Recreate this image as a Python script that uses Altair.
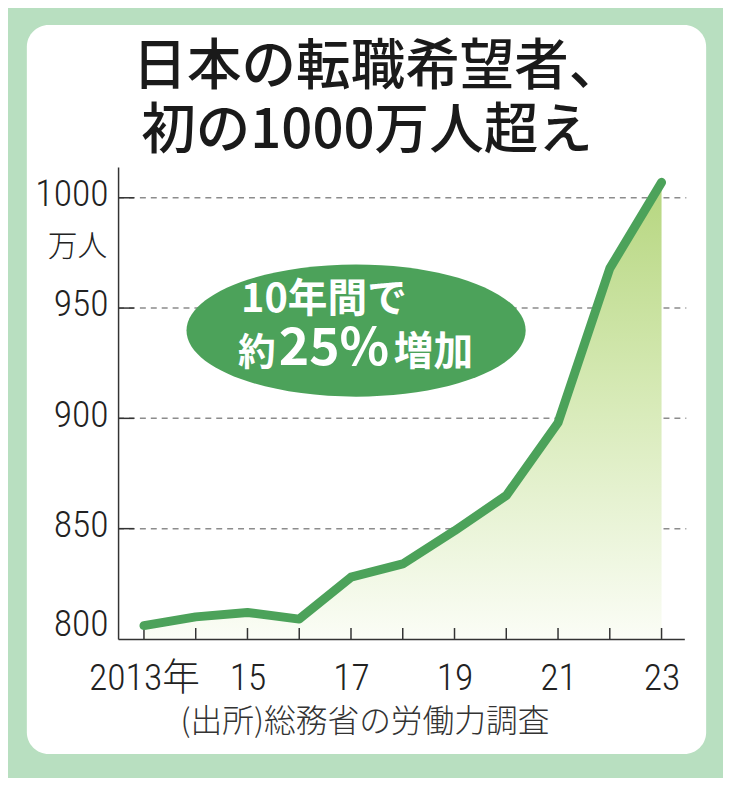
import altair as alt
import pandas as pd

# ---- data ----
years = [2013, 2014, 2015, 2016, 2017, 2018, 2019, 2020, 2021, 2022, 2023]
values = [806, 810, 812, 809, 828, 834, 849, 865, 898, 968, 1007]
x_label_years = [2013, 2015, 2017, 2019, 2021, 2023]
y_tick_values = [800, 850, 900, 950, 1000]
grid_values = [850, 900, 950, 1000]

title_line1 = "日本の転職希望者、"
title_line2 = "初の1000万人超え"
unit_label = "万人"
bubble_line1 = "10年間で"
bubble_pre = "約"
bubble_num = "25%"
bubble_post = "増加"
source_text = "(出所)総務省の労働力調査"

df = pd.DataFrame({"year": years, "value": values})
grid_df = pd.DataFrame({"value": grid_values})
tick_df = pd.DataFrame({"year": years})
one = pd.DataFrame({"k": [0]})

W, H = 571, 476
NARROW = "Liberation Sans Narrow, Arial Narrow, Roboto Condensed, DejaVu Sans Condensed, Noto Sans CJK JP, sans-serif"
JP = "Noto Sans CJK JP"
LINE_GREEN = "#4ca25a"

xs = alt.Scale(domain=[2012.5, 2023.44], nice=False, zero=False)
ys = alt.Scale(domain=[800, 1014], nice=False, zero=False)

# white rounded panel
panel = alt.Chart(one).mark_rect(color="white", cornerRadius=22).encode(
    x=alt.value(-92), x2=alt.value(593), y=alt.value(-143), y2=alt.value(592)
)

grid = alt.Chart(grid_df).mark_rule(color="#8c8c8c", strokeWidth=1.5, strokeDash=[6, 5]).encode(
    y=alt.Y("value:Q", scale=ys), x=alt.value(0), x2=alt.value(W + 2)
)
ytick = alt.Chart(grid_df).mark_rule(color="#333333", strokeWidth=1.5).encode(
    y=alt.Y("value:Q", scale=ys), x=alt.value(0), x2=alt.value(16)
)
xtick = alt.Chart(tick_df).mark_rule(color="#333333", strokeWidth=1.5).encode(
    x=alt.X("year:Q", scale=xs), y=alt.value(H), y2=alt.value(H - 11)
)

area = alt.Chart(df).mark_area(
    color=alt.Gradient(
        gradient="linear",
        stops=[
            alt.GradientStop(color="#b6d67f", offset=0),
            alt.GradientStop(color="#d5e9b4", offset=0.45),
            alt.GradientStop(color="#fbfdf6", offset=1),
        ],
        x1=1, x2=1, y1=0, y2=1,
    )
).encode(
    x=alt.X("year:Q", scale=xs),
    y=alt.Y("value:Q", scale=ys),
    y2=alt.datum(800),
)

line = alt.Chart(df).mark_line(color=LINE_GREEN, strokeWidth=9, strokeCap="round", strokeJoin="round").encode(
    x=alt.X(
        "year:Q", scale=xs,
        axis=alt.Axis(
            values=x_label_years, title=None, grid=False, ticks=False, zindex=1,
            domainColor="#333333", domainWidth=1.5,
            labelFont=NARROW, labelFontSize=38, labelFontWeight=300, labelColor="#222222", labelPadding=21,
            labelExpr="datum.value == 2013 ? '2013年' : slice(toString(datum.value), 2)",
        ),
    ),
    y=alt.Y(
        "value:Q", scale=ys,
        axis=alt.Axis(
            values=y_tick_values, title=None, grid=False, ticks=False, zindex=1,
            domainColor="#333333", domainWidth=1.5, format="d",
            labelFont=NARROW, labelFontSize=38, labelFontWeight=300, labelColor="#222222", labelPadding=10,
            labelFlush=True, labelFlushOffset=8, labelOffset=-3,
        ),
    ),
)

ellipse = alt.Chart(one).mark_point(
    shape="M -1 0 A 1 0.39 0 1 0 1 0 A 1 0.39 0 1 0 -1 0 Z",
    filled=True, fill=LINE_GREEN, opacity=1, strokeWidth=0, size=342 * 342,
).encode(x=alt.value(240), y=alt.value(165))

def txt(text, x, y, size, color="#1a1a1a", font=JP, weight="normal", align="center", baseline="middle"):
    return alt.Chart(one).mark_text(
        text=text, font=font, fontSize=size, fontWeight=weight, color=color,
        align=align, baseline=baseline,
    ).encode(x=alt.value(x), y=alt.value(y))

texts = [
    txt(title_line1, 262, -101, 55, weight=500),
    txt(title_line2, 251, -36, 55, weight=500),
    txt(unit_label, -11, 81, 30, color="#222222", align="right", weight=300),
    txt(bubble_line1, 124, 134, 40, color="white", weight="bold", align="left"),
    txt(bubble_pre, 121, 200, 38, color="white", weight="bold", align="left", baseline="alphabetic"),
    txt(bubble_num, 162, 200, 52, color="white", weight="bold", align="left", baseline="alphabetic"),
    txt(bubble_post, 358, 200, 40, color="white", weight="bold", align="right", baseline="alphabetic"),
    txt(source_text, 249, 560, 32, color="#333333", weight=300),
]

chart = alt.layer(panel, grid, area, ytick, xtick, line, ellipse, *texts).properties(
    width=W, height=H,
    background="#b8dfc0",
    padding={"left": 111, "top": 157, "right": 39, "bottom": 137},
    autosize=alt.AutoSizeParams(type="none"),
).configure_view(stroke=None)

chart.save("out.html", embed_options={"renderer": "svg", "actions": False})
